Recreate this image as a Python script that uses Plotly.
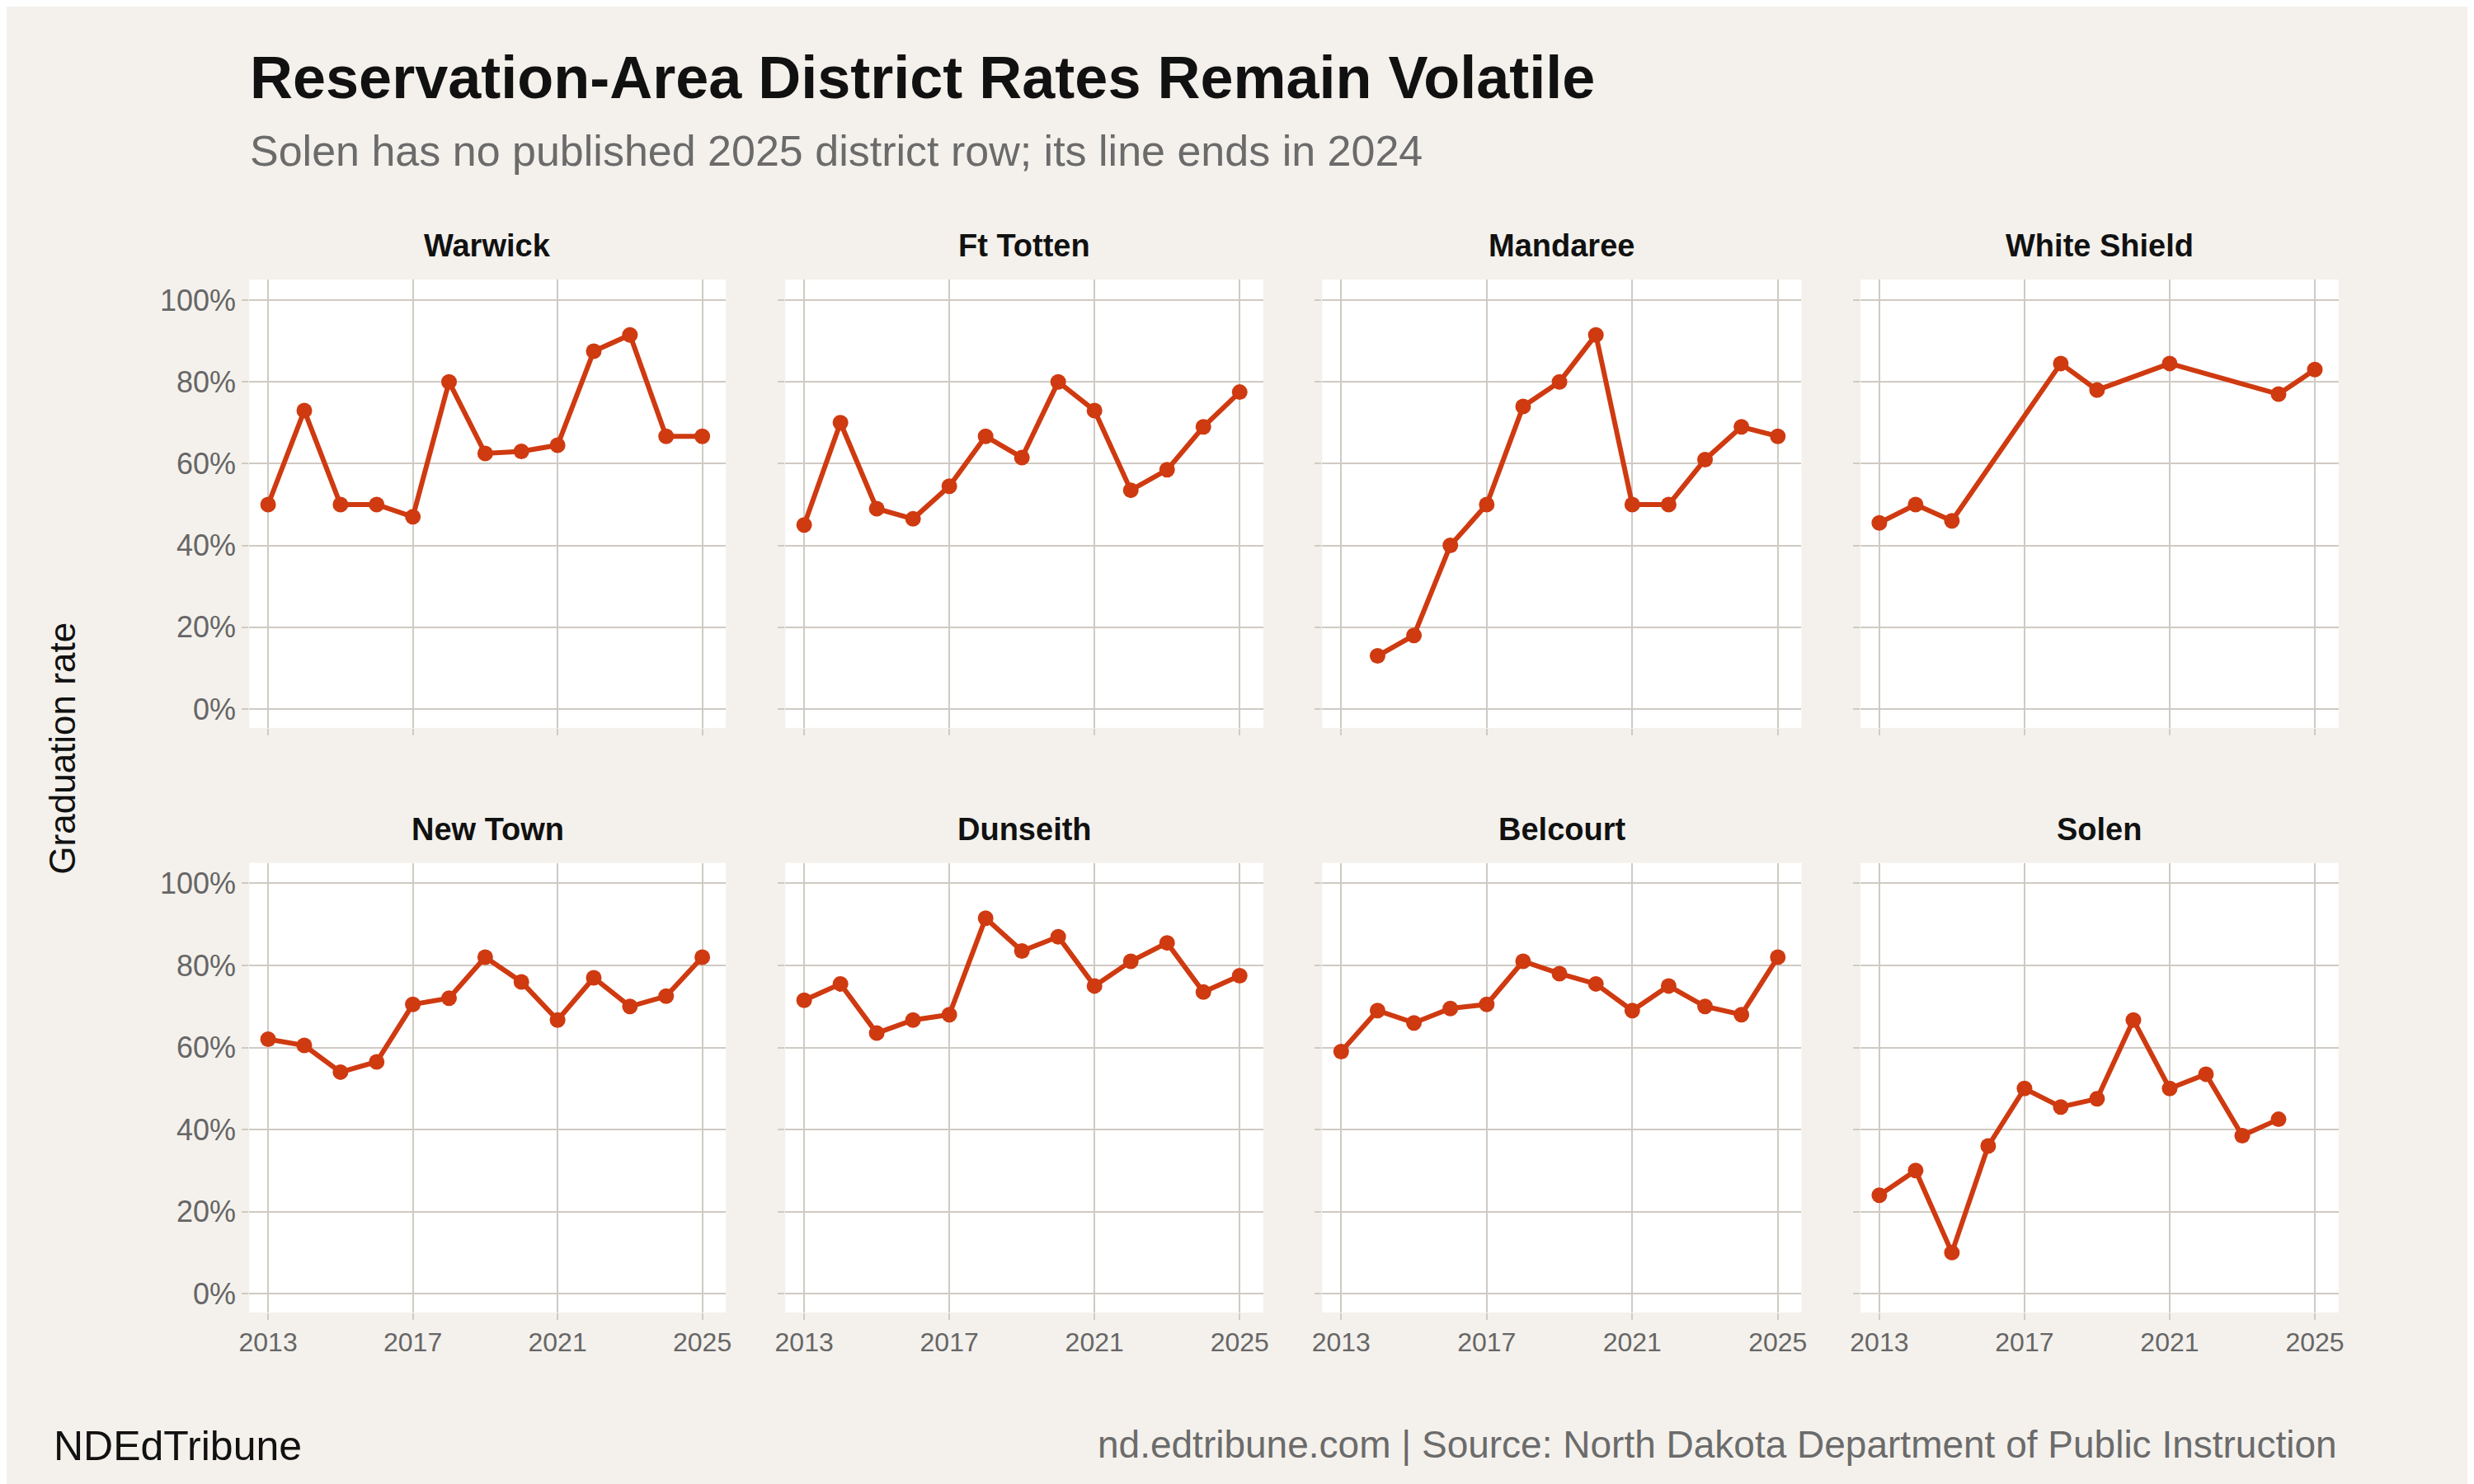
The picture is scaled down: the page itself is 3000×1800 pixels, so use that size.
import plotly.graph_objects as go

# District graduation rates (%)
districts = ["Warwick", "Ft Totten", "Mandaree", "White Shield",
             "New Town", "Dunseith", "Belcourt", "Solen"]
all_years = list(range(2013, 2026))

warwick = [50, 73, 50, 50, 47, 80, 62.5, 63, 64.5, 87.5, 91.5, 66.7, 66.7]
ft_totten = [45, 70, 49, 46.5, 54.5, 66.7, 61.5, 80, 73, 53.5, 58.5, 69, 77.5]
mandaree_years = list(range(2014, 2026))
mandaree = [13, 18, 40, 50, 74, 80, 91.5, 50, 50, 61, 69, 66.7]
white_shield_years = [2013, 2014, 2015, 2018, 2019, 2021, 2024, 2025]
white_shield = [45.5, 50, 46, 84.5, 78, 84.5, 77, 83]
new_town = [62, 60.5, 54, 56.5, 70.5, 72, 82, 76, 66.7, 77, 70, 72.5, 82]
dunseith = [71.5, 75.5, 63.5, 66.7, 68, 91.5, 83.5, 87, 75, 81, 85.5, 73.5, 77.5]
belcourt = [59, 69, 66, 69.5, 70.5, 81, 78, 75.5, 69, 75, 70, 68, 82]
solen_years = list(range(2013, 2025))
solen = [24, 30, 10, 36, 50, 45.5, 47.5, 66.7, 50, 53.5, 38.5, 42.5]

y_ticks = [0, 20, 40, 60, 80, 100]
y_labels = [f"{v}%" for v in y_ticks]
x_ticks = [2013, 2017, 2021, 2025]

series = [
    (all_years, warwick), (all_years, ft_totten), (mandaree_years, mandaree),
    (white_shield_years, white_shield), (all_years, new_town),
    (all_years, dunseith), (all_years, belcourt), (solen_years, solen),
]

BG = "#f4f1ec"
LINE = "#cf3a10"
GRID = "#cfcac3"
FONT = "Liberation Sans, Arial, sans-serif"

col_dom = [[0.0944, 0.2883], [0.3125, 0.507], [0.531, 0.726], [0.75, 0.9445]]
row_dom = [[0.514, 0.816], [0.12, 0.423]]

fig = go.Figure()
layout = {}
for i, (name, (xs, ys)) in enumerate(zip(districts, series)):
    r, c = divmod(i, 4)
    n = i + 1
    xa = "x" if n == 1 else f"x{n}"
    ya = "y" if n == 1 else f"y{n}"
    fig.add_trace(go.Scatter(
        x=xs, y=ys, xaxis=xa, yaxis=ya, mode="lines+markers",
        line=dict(color=LINE, width=6), marker=dict(color=LINE, size=19),
        showlegend=False,
    ))
    layout[f"xaxis{n}"] = dict(
        domain=col_dom[c], anchor=ya, range=[2012.48, 2025.65],
        tickvals=x_ticks, showticklabels=(r == 1),
        showgrid=True, gridcolor=GRID, gridwidth=2, zeroline=False,
        ticks="outside", ticklen=8, tickcolor=GRID, tickwidth=2,
        tickfont=dict(size=32, color="#666666", family=FONT),
    )
    layout[f"yaxis{n}"] = dict(
        domain=row_dom[r], anchor=xa, range=[-4.6, 105],
        tickvals=y_ticks, ticktext=y_labels,
        showticklabels=(c == 0), showgrid=True, gridcolor=GRID, gridwidth=2,
        zeroline=False, ticks="outside", ticklen=8, tickcolor=GRID, tickwidth=2,
        tickfont=dict(size=36, color="#666666", family=FONT),
    )
    fig.add_annotation(
        text=f"<b>{name}</b>", x=sum(col_dom[c]) / 2, y=row_dom[r][1] + 0.01,
        xref="paper", yref="paper", xanchor="center", yanchor="bottom",
        showarrow=False, font=dict(size=38, color="#111111", family=FONT),
    )

fig.update_layout(
    **layout,
    width=3000, height=1800,
    margin=dict(l=0, r=0, t=0, b=0),
    paper_bgcolor=BG, plot_bgcolor="white",
    font=dict(family=FONT),
)
fig.add_annotation(text="<b>Reservation-Area District Rates Remain Volatile</b>",
                   x=0.094, y=0.952, xref="paper", yref="paper", xanchor="left",
                   yanchor="middle", showarrow=False,
                   font=dict(size=72, color="#111111", family=FONT))
fig.add_annotation(text="Solen has no published 2025 district row; its line ends in 2024",
                   x=0.094, y=0.903, xref="paper", yref="paper", xanchor="left",
                   yanchor="middle", showarrow=False,
                   font=dict(size=52, color="#6b6b6b", family=FONT))
fig.add_annotation(text="Graduation rate", x=0.018, y=0.5, xref="paper", yref="paper",
                   textangle=-90, xanchor="center", yanchor="middle", showarrow=False,
                   font=dict(size=44, color="#111111", family=FONT))
fig.add_annotation(text="NDEdTribune", x=0.014, y=0.03, xref="paper", yref="paper",
                   xanchor="left", yanchor="middle", showarrow=False,
                   font=dict(size=50, color="#111111", family=FONT))
fig.add_annotation(text="nd.edtribune.com | Source: North Dakota Department of Public Instruction",
                   x=0.9445, y=0.031, xref="paper", yref="paper", xanchor="right",
                   yanchor="middle", showarrow=False,
                   font=dict(size=46, color="#6b6b6b", family=FONT))

fig.write_html("out.html")
